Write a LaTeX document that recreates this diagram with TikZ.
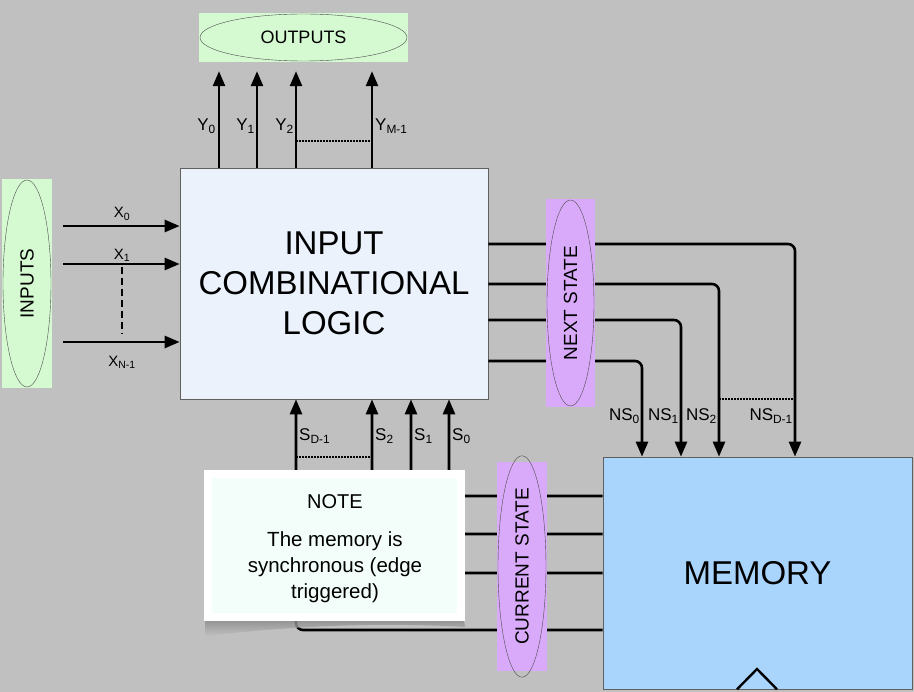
\documentclass[tikz,border=0pt]{standalone}
\usepackage{fontspec}
\setmainfont{Liberation Sans}
\usetikzlibrary{arrows.meta,shapes.geometric}
\definecolor{bgc}{HTML}{C0C0C0}
\definecolor{logicc}{HTML}{EBF2FB}
\definecolor{memc}{HTML}{A9D5FD}
\definecolor{greenc}{HTML}{D5FAD1}
\definecolor{purplec}{HTML}{D9AAF9}
\definecolor{notec}{HTML}{F3FEFB}
\begin{document}
\begin{tikzpicture}[x=1pt,y=-1pt,box/.style={draw=gray!75!black,line width=.7pt,inner sep=0pt,align=center},tag/.style={fill=#1,inner sep=0pt},oval/.style={draw=gray!60!black,ellipse,line width=.4pt,inner sep=0pt,font=\fontsize{19}{21}\selectfont},bus/.style={line width=2.6pt,-{Triangle[length=15pt,width=12pt]},rounded corners=7pt},dots/.style={line width=1.6pt,dash pattern=on 2pt off 1pt},lbl/.style={font=\fontsize{17}{19}\selectfont,inner sep=1pt},xlbl/.style={font=\fontsize{15}{17}\selectfont,inner sep=1pt}]
\fill[bgc] (0,0) rectangle (914,692);
\useasboundingbox (0,0) rectangle (914,692);
\node[box,fill=logicc,minimum width=308pt,minimum height=231pt,font=\fontsize{33}{40}\selectfont] (logic) at (334,283.5) {INPUT\\COMBINATIONAL\\LOGIC};
\node[box,fill=memc,minimum width=309pt,minimum height=232pt,font=\fontsize{33}{36}\selectfont] (memory) at (757.5,573) {MEMORY};
\draw[line width=2.4pt] (memory.south-|737,0) -- (757,669) -- (memory.south-|777,0);
\node[tag=greenc,minimum width=209pt,minimum height=49pt] (outbox) at (303.5,37.5) {};
\node[oval,font=\fontsize{18}{20}\selectfont,minimum width=207pt,minimum height=47pt] (outs) at (outbox) {OUTPUTS};
\node[tag=greenc,minimum width=50pt,minimum height=209pt] (inbox) at (27,283.5) {};
\node[oval,rotate=90,minimum width=207pt,minimum height=48pt] (ins) at (inbox) {INPUTS};
% outputs and inputs
\foreach \x in {219,257,296,372} \draw[bus,shorten >=10pt] (logic.north-|\x,0) -- (outs.south-|\x,0);
\draw[dots] (296,141) -- (372,141);
\foreach \y in {226,264,342} \draw[bus,shorten <=11pt] (inbox.east|-0,\y) -- (logic.west|-0,\y);
\draw[line width=2.2pt,dash pattern=on 7pt off 4pt] (122,267) -- (122,334);
% next state
\foreach \y/\x in {244/795,284/719,320/681,361/642} \draw[bus] (logic.east|-0,\y) -| (memory.north-|\x,0);
\draw[dots] (719,399) -- (795,399);
% current state
\foreach \y/\x in {496/449,534/411,573/372,630/296} \draw[bus] (memory.west|-0,\y) -| (logic.south-|\x,0);
\draw[dots] (296,457) -- (372,457);
\node[tag=purplec,minimum width=49pt,minimum height=208pt] (nsbox) at (570.5,303) {};
\node[oval,rotate=90,minimum width=206pt,minimum height=47pt] (ns) at (nsbox) {NEXT STATE};
\node[tag=purplec,minimum width=50pt,minimum height=209pt] (csbox) at (522,566.5) {};
\node[oval,rotate=90,minimum width=207pt,minimum height=48pt] (cs) at (csbox) {CURRENT STATE};
% note
\shade[top color=black!55,bottom color=bgc,opacity=.8] (206,614) -- (463,614) -- (465,627) .. controls (380,622) and (290,626) .. (205,636) -- cycle;
\node[tag=white,minimum width=261pt,minimum height=151pt] (notebox) at (334.5,545.5) {};
\node[tag=notec,minimum width=245pt,minimum height=135pt] (notein) at (notebox) {};
\node[font=\fontsize{20}{22}\selectfont] (notehead) at (335,502) {NOTE};
\node[align=center,font=\fontsize{20.5}{26}\selectfont] (notetext) at (335,567) {The memory is\\synchronous (edge\\triggered)};
% labels
\node[lbl,anchor=east] (y0) at (217,126) {Y\textsubscript{0}};
\node[lbl,anchor=east] (y1) at (256,126) {Y\textsubscript{1}};
\node[lbl,anchor=east] (y2) at (295,126) {Y\textsubscript{2}};
\node[lbl,anchor=west] (ym) at (374,126) {Y\textsubscript{M-1}};
\node[xlbl] (x0) at (122,214) {X\textsubscript{0}};
\node[xlbl] (x1) at (122,255) {X\textsubscript{1}};
\node[xlbl] (xn) at (122,362) {X\textsubscript{N-1}};
\node[lbl,anchor=west] (sd) at (298,436) {S\textsubscript{D-1}};
\node[lbl,anchor=west] (s2) at (374,436) {S\textsubscript{2}};
\node[lbl,anchor=west] (s1) at (413,436) {S\textsubscript{1}};
\node[lbl,anchor=west] (s0) at (451,436) {S\textsubscript{0}};
\node[lbl,anchor=east] (ns0) at (641,416) {NS\textsubscript{0}};
\node[lbl,anchor=east] (ns1) at (680,416) {NS\textsubscript{1}};
\node[lbl,anchor=east] (ns2) at (718,416) {NS\textsubscript{2}};
\node[lbl,anchor=east] (nsd) at (794,416) {NS\textsubscript{D-1}};
\end{tikzpicture}
\end{document}
